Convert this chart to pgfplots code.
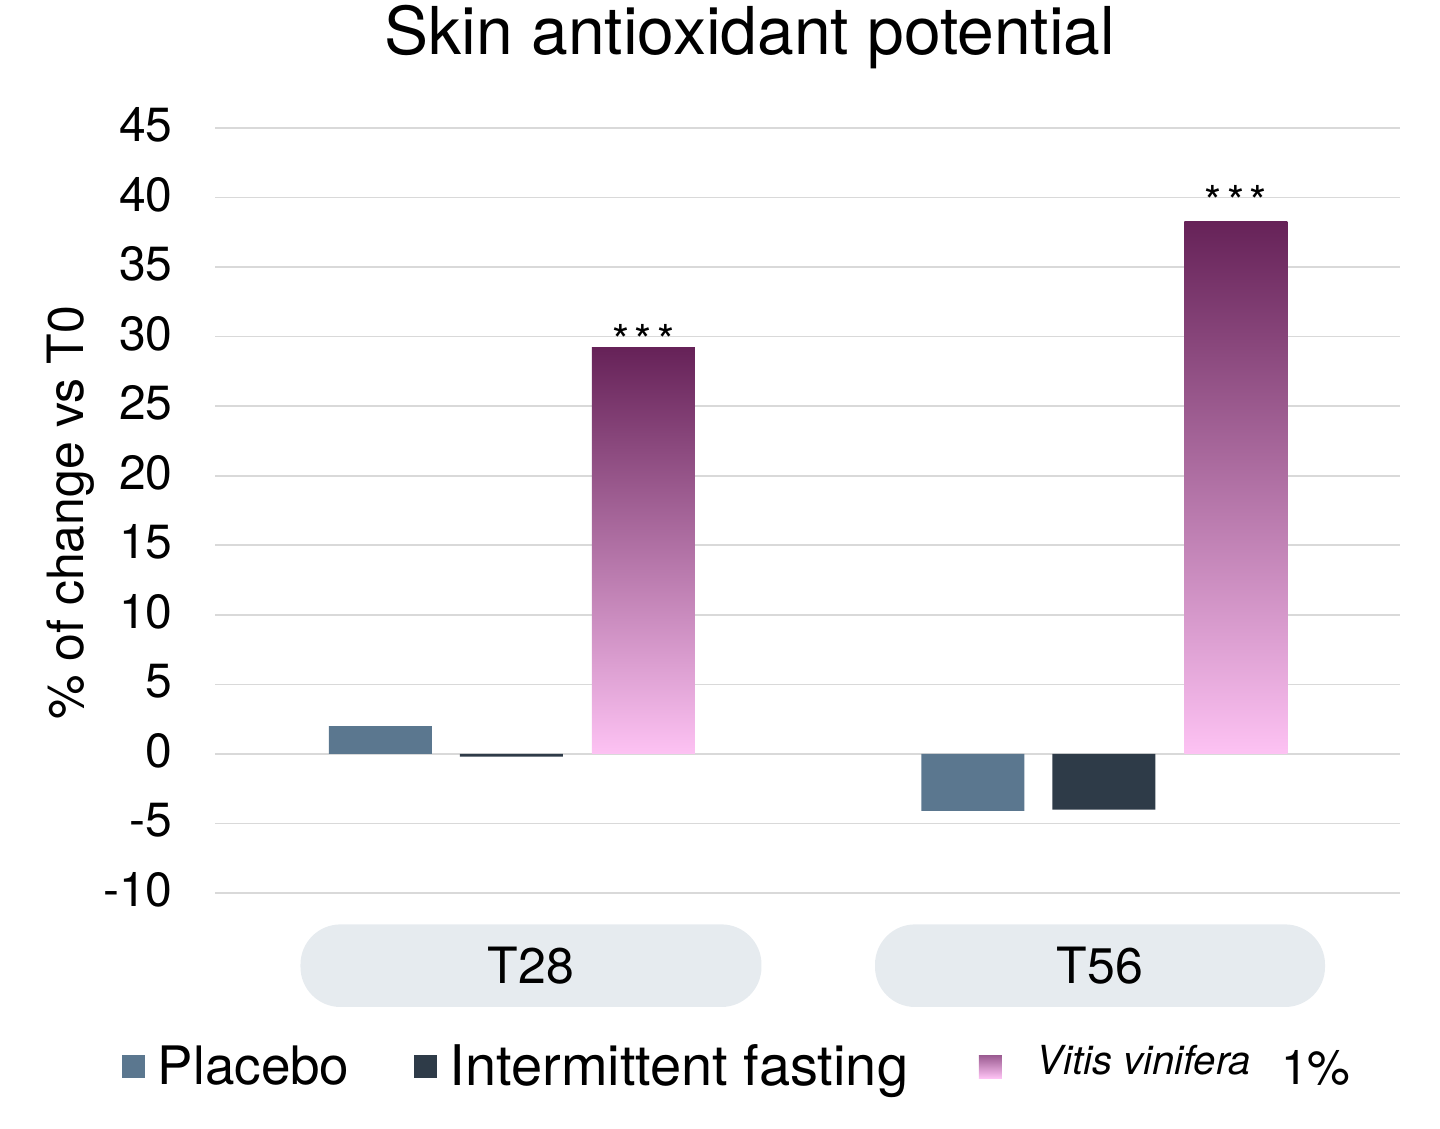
\documentclass[border=0pt]{standalone}
\usepackage{pgfplots}
\pgfplotsset{compat=1.18}
\usepackage{fontspec}
\setmainfont{TeX Gyre Heros}
\definecolor{placebo}{HTML}{5B778F}
\definecolor{ifc}{HTML}{2E3B48}
\definecolor{pill}{HTML}{E6EBEF}
\definecolor{gridc}{HTML}{D9D9D9}
\definecolor{vtop}{HTML}{662258}
\definecolor{vbot}{HTML}{FDC2F3}
\definecolor{vleg}{HTML}{9A5A90}
\newcommand\fs[1]{\fontsize{#1}{#1}\selectfont}
\newcommand\stars{*\hspace{2.7pt}*\hspace{2.7pt}*}
\begin{document}
\begin{tikzpicture}
\path[use as bounding box] (0,0) rectangle (720pt,564.5pt);
\begin{axis}[
  at={(107.5pt,118pt)}, anchor=south west,
  scale only axis, width=592.5pt, height=382.5pt,
  xmin=-0.5, xmax=1.5, ymin=-10, ymax=45,
  axis line style={draw=none},
  major tick length=0pt,
  ytick={-10,-5,...,45},
  yticklabels={-10,-5,0,5,10,15,20,25,30,35,40,45},
  yticklabel style={font=\fs{24}, inner sep=0pt, xshift=-21pt, yshift=1.5pt},
  ymajorgrids, grid style={draw=gridc, line width=0.8pt},
  xtick={0.0333,0.9937},
  xticklabels={\makebox[230.5pt]{T28},\makebox[225pt]{T56}},
  xticklabel style={font=\fs{25}, fill=pill, rounded corners=20pt, inner sep=0pt, minimum height=41.3pt, anchor=north, yshift=-15.5pt},
  legend style={at={(axis description cs:-0.0785,-0.2268)}, anchor=west, draw=none, fill=none, inner sep=0pt, outer sep=0pt,
    nodes={inner sep=0pt},
    /tikz/every odd column/.append style={column sep=6.5pt},
    /tikz/every even column/.append style={column sep=0pt}},
  legend columns=3,
]
\addplot[ybar, bar width=51.5pt, bar shift=-65.4pt, fill=placebo, draw=none,
  legend image code/.code={\fill[placebo] (0pt,-5.75pt) rectangle (11.5pt,5.75pt);}]
  coordinates {(0,2.0) (1,-4.1)};
\addlegendentry{\makebox[128pt][l]{\fs{26.5}Placebo}}
\addplot[ybar, bar width=51.5pt, bar shift=0pt, fill=ifc, draw=none,
  legend image code/.code={\fill[ifc] (0pt,-5.75pt) rectangle (11.5pt,5.75pt);}]
  coordinates {(0,-0.2) (1,-4.0)};
\addlegendentry{\makebox[264.5pt][l]{\fs{28}Intermittent fasting}}
\addplot[ybar, bar width=51.5pt, bar shift=66pt, draw=none, top color=vtop, bottom color=vbot,
  legend image code/.code={\shade[top color=vleg, bottom color=vbot] (0pt,-5.75pt) rectangle (11.5pt,5.75pt);}]
  coordinates {(0,29.2)};
\addlegendentry{\hspace*{11pt}\raisebox{5pt}{\fs{20}\itshape Vitis vinifera}\hspace*{15pt}{\fs{24}1\%}}
\addplot[ybar, bar width=51.5pt, bar shift=66pt, draw=none, top color=vtop, bottom color=vbot, forget plot]
  coordinates {(1,38.3)};
\node[font=\fs{22}, anchor=base, xshift=66pt] at (axis cs:0,28.55) {\stars};
\node[font=\fs{22}, anchor=base, xshift=66pt] at (axis cs:1,38.57) {\stars};
\end{axis}
\node[font=\fs{33}, anchor=base] at (375pt,537pt) {Skin antioxidant potential};
\node[font=\fs{25}, rotate=90, anchor=base] at (41.5pt,308pt) {\% of change vs T0};
\end{tikzpicture}
\end{document}
